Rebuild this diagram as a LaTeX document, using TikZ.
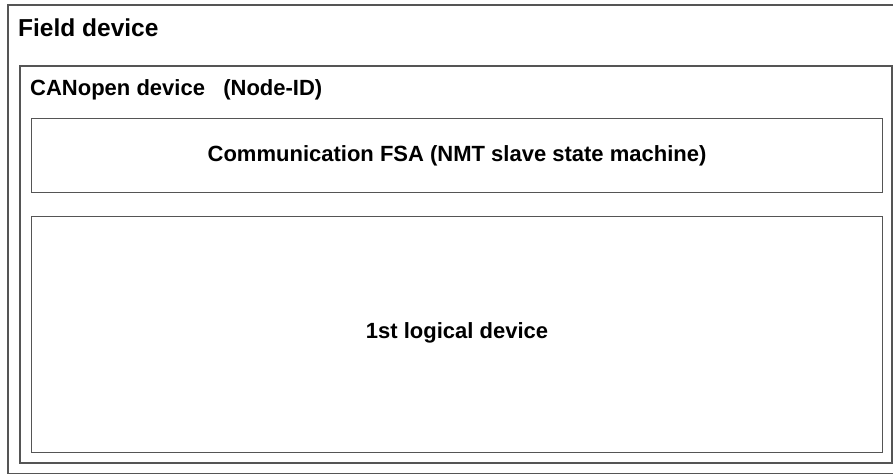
\documentclass[tikz,border=0pt]{standalone}
\usepackage{fontspec}
\setmainfont{Liberation Sans}
\definecolor{edge}{RGB}{85,85,85}
\begin{document}
\begin{tikzpicture}[x=1pt,y=-1pt,
  frame/.style={draw=edge,line width=1.1pt,fill=none},
  lbl/.style={inner sep=0pt,font=\bfseries\fontsize{22}{26}\selectfont},
  biglbl/.style={inner sep=0pt,font=\bfseries\fontsize{24.5}{29}\selectfont}]
\useasboundingbox (0,0) rectangle (893,475);
\clip (0,0) rectangle (893,475);
\fill[white] (0,0) rectangle (893,475);
% outer field device box
\draw[frame] (8,5) rectangle (900,473.5);
\node[biglbl,anchor=base west] (field) at (18,36) {Field device};
% CANopen device box
\draw[frame] (20,66) rectangle (892,463);
\node[lbl,anchor=base west] (canopen) at (30,95) {CANopen device\ \ \ (Node-ID)};
% communication FSA
\node[frame,minimum width=851,minimum height=74,anchor=north west,inner sep=0pt] (fsa) at (31,118) {};
\node[lbl] (fsatext) at (fsa.center) {Communication FSA (NMT slave state machine)};
% logical device
\node[frame,minimum width=851,minimum height=236,anchor=north west,inner sep=0pt] (logic) at (31,216) {};
\node[lbl] (logictext) at ([yshift=2pt]logic.center) {1st logical device};
\end{tikzpicture}
\end{document}
